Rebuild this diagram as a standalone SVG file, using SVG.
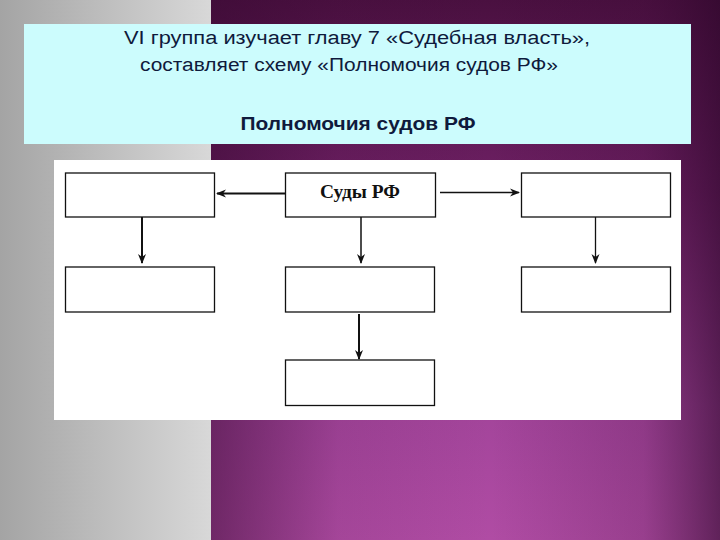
<svg xmlns="http://www.w3.org/2000/svg" width="720" height="540" viewBox="0 0 720 540">
<defs>
<linearGradient id="gray" x1="0" y1="0" x2="1" y2="0">
<stop offset="0" stop-color="#a4a4a4"/>
<stop offset="1" stop-color="#d8d8d8"/>
</linearGradient>
<linearGradient id="purpV" x1="0" y1="0" x2="0" y2="1">
<stop offset="0" stop-color="#4a1040"/>
<stop offset="0.35" stop-color="#6e2064"/>
<stop offset="0.75" stop-color="#a2449a"/>
<stop offset="1" stop-color="#b04ca4"/>
</linearGradient>
<linearGradient id="purpH" x1="0" y1="0" x2="1" y2="0">
<stop offset="0" stop-color="#3a0a34" stop-opacity="0.55"/>
<stop offset="0.25" stop-color="#3a0a34" stop-opacity="0.1"/>
<stop offset="0.55" stop-color="#3a0a34" stop-opacity="0"/>
<stop offset="0.85" stop-color="#3a0a34" stop-opacity="0.2"/>
<stop offset="1" stop-color="#2a0628" stop-opacity="0.6"/>
</linearGradient>
<marker id="ah" viewBox="0 0 10 10" refX="9" refY="5" markerWidth="10" markerHeight="10" markerUnits="userSpaceOnUse" orient="auto">
<path d="M0,1 L10,5 L0,9 L3,5 Z" fill="#111"/>
</marker>
<style>
.t{font-family:"Liberation Sans","DejaVu Sans",sans-serif;font-size:18px;fill:#0f1a3c;text-anchor:middle}
.b{font-weight:bold}
.box{fill:#fff;stroke:#111;stroke-width:1.3}
.c{stroke:#111;fill:none;marker-end:url(#ah)}
</style>
</defs>
<rect x="0" y="0" width="211" height="540" fill="url(#gray)"/>
<rect x="211" y="0" width="509" height="540" fill="url(#purpV)"/>
<rect x="211" y="0" width="509" height="540" fill="url(#purpH)"/>
<g id="header">
<rect x="24" y="24" width="667" height="120" fill="#ccfcfd"/>
<text class="t" x="357" y="44" textLength="466" lengthAdjust="spacingAndGlyphs">VI группа изучает главу 7 «Судебная власть»,</text>
<text class="t" x="349" y="71" textLength="418" lengthAdjust="spacingAndGlyphs">составляет схему «Полномочия судов РФ»</text>
<text class="t b" x="358" y="130" textLength="235" lengthAdjust="spacingAndGlyphs">Полномочия судов РФ</text>
</g>
<rect x="54" y="160" width="627" height="260" fill="#fff"/>
<g id="connectors">
<line class="c" x1="285" y1="193.5" x2="217" y2="193.5" stroke-width="2"/>
<line class="c" x1="440" y1="192.5" x2="519" y2="192.5" stroke-width="1.3"/>
<line class="c" x1="142" y1="217" x2="142" y2="263" stroke-width="2"/>
<line class="c" x1="361" y1="217" x2="361" y2="263" stroke-width="1.5"/>
<line class="c" x1="595.5" y1="217" x2="595.5" y2="263" stroke-width="1.3"/>
<line class="c" x1="359" y1="314" x2="359" y2="359" stroke-width="2"/>
</g>
<g id="n-top-left"><rect class="box" x="65.5" y="173" width="149" height="44"/></g>
<g id="n-courts"><rect class="box" x="285.5" y="173" width="150" height="44"/>
<text x="360" y="197.5" font-family="'Liberation Serif',serif" font-weight="bold" font-size="19" fill="#111" text-anchor="middle" textLength="80" lengthAdjust="spacingAndGlyphs">Суды РФ</text></g>
<g id="n-top-right"><rect class="box" x="521.5" y="173" width="149" height="44"/></g>
<g id="n-mid-left"><rect class="box" x="65.5" y="267" width="149" height="45"/></g>
<g id="n-mid-center"><rect class="box" x="285.5" y="267" width="149" height="45"/></g>
<g id="n-mid-right"><rect class="box" x="521.5" y="267" width="149" height="45"/></g>
<g id="n-bottom"><rect class="box" x="285.5" y="360" width="149" height="45.5"/></g>
</svg>
